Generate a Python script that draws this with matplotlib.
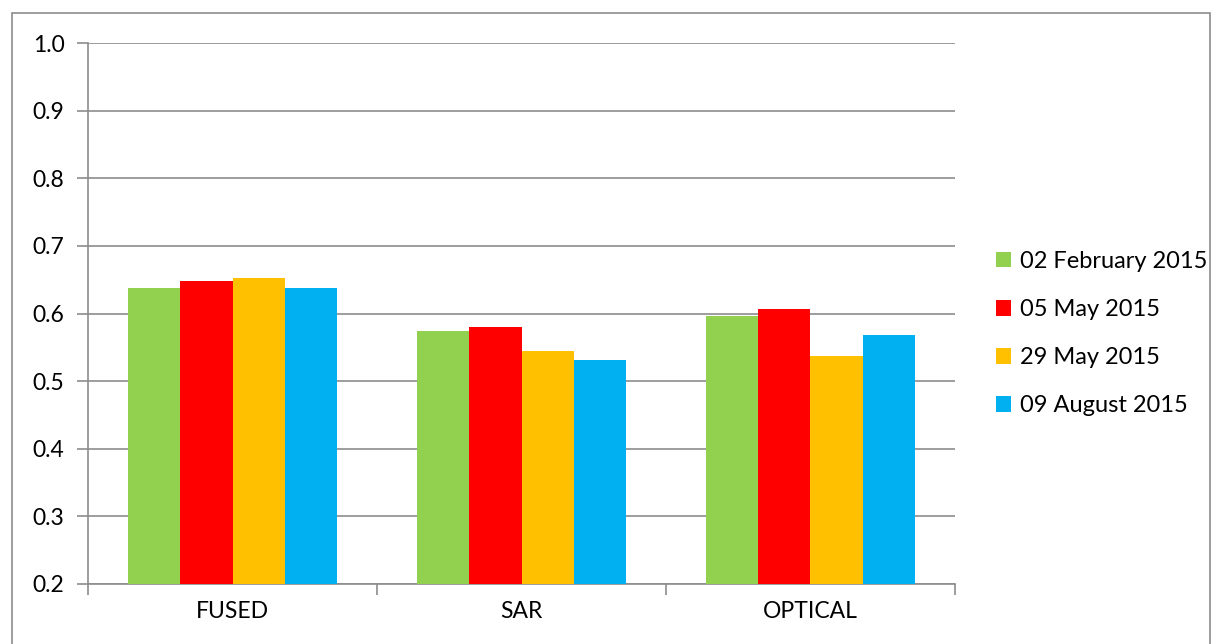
import matplotlib
matplotlib.use("Agg")
import matplotlib.pyplot as plt
import numpy as np
from matplotlib.patches import Rectangle

categories = ["FUSED", "SAR", "OPTICAL"]
series_names = ["02 February 2015", "05 May 2015", "29 May 2015", "09 August 2015"]
feb_02 = [0.637, 0.574, 0.597]
may_05 = [0.648, 0.580, 0.607]
may_29 = [0.653, 0.544, 0.537]
aug_09 = [0.637, 0.531, 0.568]
colors = ["#92D050", "#FF0000", "#FFC000", "#00B0F0"]
yticks = [0.2, 0.3, 0.4, 0.5, 0.6, 0.7, 0.8, 0.9, 1.0]

plt.rcParams['font.family'] = ['Lato', 'DejaVu Sans']

fig = plt.figure(figsize=(12.21, 6.44), dpi=100)
W, H = 1221, 644
ax = fig.add_axes([88 / W, 1 - 584 / H, (955 - 88) / W, (584 - 43) / H])

series = [feb_02, may_05, may_29, aug_09]
x = np.arange(len(categories))
bw = 0.18
for i, (vals, name, c) in enumerate(zip(series, series_names, colors)):
    ax.bar(x + (i - 1.5) * bw, vals, width=bw, color=c, label=name, zorder=3)

ax.set_xlim(-0.5, 2.5)
ax.set_ylim(0.2, 1.0)
ax.set_yticks(yticks)
ax.set_yticklabels([f"{v:.1f}" for v in yticks])
ax.yaxis.grid(True, color="#8c8c8c", linewidth=1.2, zorder=0)
ax.set_xticks(x)
ax.set_xticklabels(categories)
ax.tick_params(axis='x', length=0, pad=12, labelsize=16.5, labelcolor="black")
ax.set_xticks([-0.5, 0.5, 1.5, 2.5], minor=True)
ax.tick_params(axis='x', which='minor', length=8, color="#8c8c8c", width=1.2)
ax.tick_params(axis='y', length=8, color="#8c8c8c", width=1.2, labelsize=16.5, pad=9,
               labelcolor="black")
for s in ["top", "right"]:
    ax.spines[s].set_visible(False)
for s in ["left", "bottom"]:
    ax.spines[s].set_color("#8c8c8c")
    ax.spines[s].set_linewidth(1.2)

leg = ax.legend(loc="center left", bbox_to_anchor=(1 + (996 - 955) / 867, 0.5 - 20 / 541),
                frameon=False, fontsize=17, handlelength=0.65, handleheight=0.65,
                handletextpad=0.35, labelspacing=1.15, borderpad=0, borderaxespad=0)

fig.patches.append(Rectangle((12 / W, -0.05), (1210 - 12) / W, 1.05 - 13 / H,
                             transform=fig.transFigure, fill=False,
                             edgecolor="#8c8c8c", linewidth=1.2))

fig.savefig("out.png", dpi=100)
